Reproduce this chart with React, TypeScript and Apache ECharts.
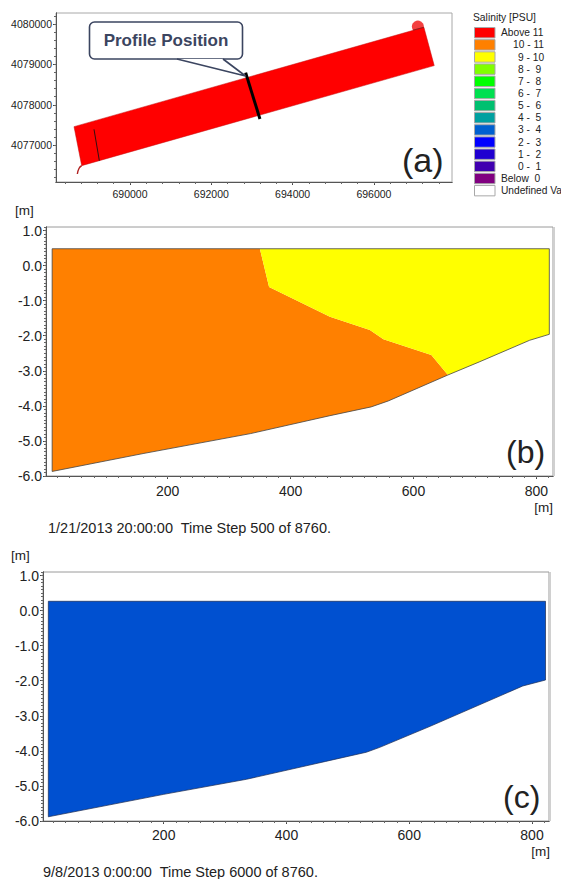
import React, { useEffect, useRef } from "react";
import * as echarts from "echarts";

const FONT = "'Liberation Sans', Arial, sans-serif";

// Panel (a): plan view
const channel = [[688623, 4077459], [697229, 4079917], [697483, 4078969], [688812, 4076494]];
const tipCurve = [[688812, 4076494], [688745, 4076425], [688705, 4076288]];
const headCircle = [[697080, 4079934]];
const headLine = [[696960, 4079845], [697229, 4079917]];
const profileLine = [[692844, 4078795], [693196, 4077649]];
const innerLine = [[689115, 4077393], [689246, 4076617]];
const planXTicks = [690000, 692000, 694000, 696000];
const planYTicks = [4077000, 4078000, 4079000, 4080000];

// Panel (b): 1/21/2013 section
const bedB = [[12, -5.87], [160, -5.36], [335, -4.79], [464, -4.28], [531, -4.03], [559, -3.86], [656, -3.12], [708, -2.74], [789, -2.13], [821, -1.96]];
const surfaceB = 0.48;
const frontB = [[350, 0.48], [365, -0.61], [464, -1.46], [529, -1.84], [551, -2.1], [629, -2.55], [656, -3.12]];

// Panel (c): 9/8/2013 section
const bedC = [[12, -5.88], [200, -5.24], [335, -4.81], [464, -4.3], [530, -4.04], [552, -3.9], [634, -3.3], [785, -2.15], [822, -1.98]];
const surfaceC = 0.265;

const sectionXTicks = [200, 400, 600, 800];
const sectionYTicks = [-6, -5, -4, -3, -2, -1, 0, 1];

// Legend
const legendTitle = "Salinity [PSU]";
const legendLabels = ["Above 11", "10 - 11", "9 - 10", "8 -  9", "7 -  8", "6 -  7", "5 -  6", "4 -  5", "3 -  4", "2 -  3", "1 -  2", "0 -  1", "Below  0", "Undefined Va"];
const legendIndents = [0, 12, 17, 17, 17, 17, 17, 17, 17, 17, 17, 17, 0, 0];
const legendColors = ["#ff0000", "#ff8000", "#ffff00", "#80ff00", "#00ff00", "#00e050", "#00c070", "#00a0a0", "#0060d0", "#0000ff", "#2000d0", "#4000b0", "#800080", "#ffffff"];

const stepTicks = (start: number, end: number, step: number) => {
  const out: number[] = [];
  for (let i = 0; start + i * step <= end + 1e-9; i++) out.push(+(start + i * step).toFixed(4));
  return out;
};

const polygonSeries = (idx: number, pts: number[][], fill: string, stroke?: string, lw = 0.8, z = 2) => ({
  type: "custom",
  xAxisIndex: idx,
  yAxisIndex: idx,
  z,
  silent: true,
  data: pts,
  encode: { x: 0, y: 1 },
  renderItem: (params: any, api: any) =>
    params.dataIndex !== 0
      ? null
      : {
          type: "polygon",
          shape: { points: pts.map((p) => api.coord(p)) },
          style: { fill, stroke: stroke || "none", lineWidth: lw },
        },
});

const lineSeries = (idx: number, pts: number[][], color: string, width: number, smooth = false, z = 4) => ({
  type: "line",
  xAxisIndex: idx,
  yAxisIndex: idx,
  data: pts,
  z,
  smooth,
  showSymbol: false,
  symbol: "none",
  silent: true,
  lineStyle: { color, width },
});

const axisPair = (dim: "x" | "y", min: number, max: number, ticks: number[], minor: number[], fontSize: number, margin: number, format: (v: number) => string) => {
  const base = {
    type: "value",
    min,
    max,
    position: dim === "x" ? "bottom" : "left",
    splitLine: { show: false },
    axisLine: { show: true, onZero: false, lineStyle: { color: "#555555", width: 1 } },
  };
  return [
    {
      ...base,
      axisTick: { show: true, length: 3, customValues: ticks, lineStyle: { color: "#444444" } },
      axisLabel: {
        show: true,
        customValues: ticks,
        fontSize,
        fontFamily: FONT,
        color: "#222222",
        margin,
        formatter: (v: number) => format(v),
      },
    },
    {
      ...base,
      axisTick: { show: true, length: 2, customValues: minor, lineStyle: { color: "#666666" } },
      axisLabel: { show: false },
    },
  ];
};

const text = (x: number, y: number, content: string, fontSize: number, extra: any = {}) => ({
  type: "text",
  x,
  y,
  z: 100,
  silent: true,
  style: {
    text: content,
    fontSize,
    fontFamily: FONT,
    fill: "#222222",
    align: "left",
    verticalAlign: "middle",
    ...extra,
  },
});

const edge = (x: number, y1: number, y2: number) => ({
  type: "line",
  z: 90,
  silent: true,
  shape: { x1: x, y1, x2: x, y2 },
  style: { stroke: "#d0d0d0", lineWidth: 2 },
});

export default function App() {
  const ref = useRef<HTMLDivElement>(null);
  useEffect(() => {
    const chart = echarts.init(ref.current!, undefined, { renderer: "svg" });
    const plain = (v: number) => String(v);
    const oneDec = (v: number) => v.toFixed(1);

    const lastB = bedB[bedB.length - 1];
    const lastC = bedC[bedC.length - 1];
    const frontEnd = frontB[frontB.length - 1];
    const bedLeftOfFront = bedB.filter((p) => p[0] < frontEnd[0]);
    const bedRightOfFront = bedB.filter((p) => p[0] > frontEnd[0]);
    const orange = [[bedB[0][0], surfaceB], ...frontB, ...bedLeftOfFront.slice().reverse()];
    const yellow = [...frontB, ...bedRightOfFront, [lastB[0], surfaceB]];
    const outlineB = [[bedB[0][0], surfaceB], [lastB[0], surfaceB], ...bedB.slice().reverse()];
    const blue = [[bedC[0][0], surfaceC], [lastC[0], surfaceC], ...bedC.slice().reverse()];

    const xAxes = [
      ...axisPair("x", 688180, 697920, planXTicks, stepTicks(688400, 697920, 400), 10.5, 6, plain),
      ...axisPair("x", 2, 827, sectionXTicks, stepTicks(20, 827, 20), 14, 8, plain),
      ...axisPair("x", 3.3, 827.7, sectionXTicks, stepTicks(20, 827, 20), 14, 7, plain),
    ];
    const yAxes = [
      ...axisPair("y", 4076090, 4080270, planYTicks, stepTicks(4076200, 4080270, 200), 10.5, 4, plain),
      ...axisPair("y", -6, 1.1, sectionYTicks, stepTicks(-6, 1.1, 0.1), 14, 4, oneDec),
      ...axisPair("y", -6, 1.1, sectionYTicks, stepTicks(-6, 1.1, 0.1), 14, 4, oneDec),
    ];

    const legendGraphics: any[] = [text(473, 17.5, legendTitle, 10.3)];
    legendLabels.forEach((label, i) => {
      const y = 32.7 + i * 12.15;
      legendGraphics.push({
        type: "rect",
        z: 100,
        silent: true,
        shape: { x: 474.5, y: y - 5.2, width: 20.5, height: 10.4 },
        style: { fill: legendColors[i], stroke: "#a8a8a8", lineWidth: 1 },
      });
      legendGraphics.push(text(501 + legendIndents[i], y, label, 10.2));
    });

    chart.setOption({
      animation: false,
      backgroundColor: "#ffffff",
      grid: [
        { left: 56, top: 13, width: 396, height: 169, show: true, borderColor: "#a8a8a8", borderWidth: 1, backgroundColor: "#ffffff" },
        { left: 46, top: 227, width: 507, height: 249, show: true, borderColor: "#9a9a9a", borderWidth: 1, backgroundColor: "#ffffff" },
        { left: 43, top: 572, width: 506, height: 249, show: true, borderColor: "#9a9a9a", borderWidth: 1, backgroundColor: "#ffffff" },
      ],
      xAxis: xAxes.map((a, i) => ({ ...a, gridIndex: Math.floor(i / 2) })),
      yAxis: yAxes.map((a, i) => ({ ...a, gridIndex: Math.floor(i / 2) })),
      series: [
        polygonSeries(0, channel, "#ff0000", "#c01010", 0.5),
        { ...lineSeries(0, tipCurve, "#b02020", 1.4, true) },
        {
          type: "scatter",
          xAxisIndex: 0,
          yAxisIndex: 0,
          data: headCircle,
          symbolSize: 12,
          z: 1,
          silent: true,
          itemStyle: { color: "#f01010" },
        },
        lineSeries(0, headLine, "#702020", 0.7),
        lineSeries(0, innerLine, "#301010", 1),
        lineSeries(0, profileLine, "#000000", 3, false, 5),

        polygonSeries(2, orange, "#ff8000"),
        polygonSeries(2, yellow, "#ffff00"),
        polygonSeries(2, outlineB, "none", "#444444", 0.8, 3),

        polygonSeries(4, blue, "#0050d0", "#1a2a50", 0.7),
      ],
      graphic: [
        ...legendGraphics,
        edge(554, 227, 476),
        edge(550, 572, 821),
        // callout
        {
          type: "rect",
          z: 100,
          silent: true,
          shape: { x: 89.5, y: 22, width: 153, height: 37, r: 5 },
          style: { fill: "#ffffff", stroke: "#3b4560", lineWidth: 1.6 },
        },
        {
          type: "polygon",
          z: 101,
          silent: true,
          shape: { points: [[177, 59], [245.5, 76], [223, 59]] },
          style: { fill: "#ffffff", stroke: "none" },
        },
        {
          type: "polyline",
          z: 102,
          silent: true,
          shape: { points: [[177, 59], [245.5, 76], [223, 59]] },
          style: { fill: "none", stroke: "#3b4560", lineWidth: 1.6 },
        },
        text(166, 40, "Profile Position", 17, { fontWeight: "bold", fill: "#3b4560", align: "center" }),
        text(402, 160, "(a)", 34),
        text(506, 452, "(b)", 32),
        text(503, 797, "(c)", 32),
        text(15, 210, "[m]", 13.5),
        text(553, 507, "[m]", 13.5, { align: "right" }),
        text(48, 528, "1/21/2013 20:00:00  Time Step 500 of 8760.", 14.5),
        text(11, 555, "[m]", 13.5),
        text(550, 851, "[m]", 13.5, { align: "right" }),
        text(43, 872, "9/8/2013 0:00:00  Time Step 6000 of 8760.", 14.5),
      ],
    });
    return () => chart.dispose();
  }, []);
  return <div ref={ref} style={{ position: "absolute", left: 0, top: 0, width: 561, height: 879 }} />;
}
